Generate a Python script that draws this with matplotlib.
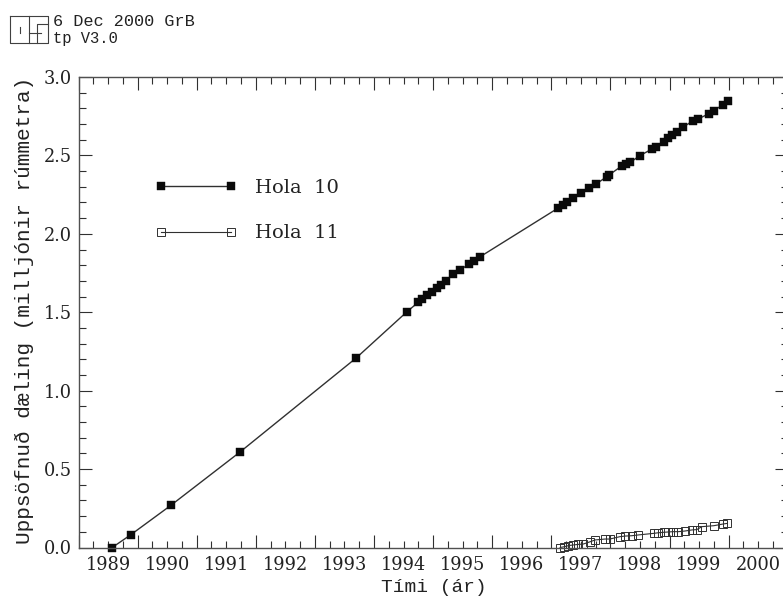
import matplotlib
matplotlib.use("Agg")
import matplotlib.pyplot as plt
from matplotlib.lines import Line2D
import numpy as np

# Time in years, cumulative pumping in million m3
hola10_t = [1989.57, 1989.88, 1990.56, 1991.74, 1993.70, 1994.56,
            1994.75, 1994.82, 1994.90, 1994.98, 1995.06, 1995.13, 1995.21,
            1995.34, 1995.46, 1995.61, 1995.69, 1995.80,
            1997.11, 1997.19, 1997.26, 1997.36, 1997.50, 1997.64, 1997.76,
            1997.94, 1997.98, 1998.20, 1998.26, 1998.34, 1998.50,
            1998.70, 1998.77, 1998.90, 1998.98, 1999.05, 1999.12, 1999.23,
            1999.40, 1999.49, 1999.66, 1999.75, 1999.90, 1999.99]
hola10_v = [0.00, 0.08, 0.268, 0.611, 1.209, 1.504,
            1.564, 1.583, 1.610, 1.631, 1.653, 1.674, 1.702,
            1.742, 1.770, 1.808, 1.829, 1.855,
            2.163, 2.184, 2.201, 2.227, 2.259, 2.291, 2.318,
            2.365, 2.376, 2.435, 2.446, 2.457, 2.499,
            2.540, 2.556, 2.588, 2.610, 2.631, 2.652, 2.680,
            2.722, 2.733, 2.765, 2.786, 2.822, 2.847]

hola11_t = [1997.15, 1997.22, 1997.29, 1997.37, 1997.46, 1997.54, 1997.66,
            1997.74, 1997.91, 1997.99, 1998.16, 1998.25, 1998.36, 1998.47,
            1998.73, 1998.81, 1998.90, 1998.98, 1999.06, 1999.15, 1999.26,
            1999.38, 1999.46, 1999.55, 1999.75, 1999.91, 1999.98]
hola11_v = [0.000, 0.005, 0.012, 0.016, 0.020, 0.022, 0.037,
            0.048, 0.054, 0.054, 0.069, 0.073, 0.075, 0.080,
            0.090, 0.094, 0.097, 0.099, 0.101, 0.101, 0.105,
            0.112, 0.114, 0.133, 0.139, 0.150, 0.154]

years = list(range(1989, 2001))
y_ticks = [0.0, 0.5, 1.0, 1.5, 2.0, 2.5, 3.0]

W, H = 783, 597
ink = "#303030"
serif = "DejaVu Serif"
mono = "Liberation Mono"

fig = plt.figure(figsize=(W / 100, H / 100), dpi=100)
# the right hand frame of the original falls outside the crop
ax = fig.add_axes([78.5 / W, (H - 547.5) / H, 709.2 / W, 470.5 / H])

ax.plot(hola10_t, hola10_v, "-", color=ink, lw=1.0, marker="s", ms=6.0,
        mfc="#0a0a0a", mec="#0a0a0a", mew=0.3, clip_on=False, label="Hola  10")
ax.plot(hola11_t, hola11_v, "-", color=ink, lw=0.8, marker="s", ms=5.6,
        mfc="none", mec=ink, mew=0.7, clip_on=False, label="Hola  11")

ax.set_xlim(1989, 2001)
ax.set_ylim(0, 3)

# year labels sit in the middle of each year, on an unmarked minor tick
ax.set_xticks(years + [2001], labels=[])
minor_x = [y + q for y in years for q in (0.25, 0.5, 0.75)]
minor_lab = [str(y) if q == 0.5 else "" for y in years for q in (0.25, 0.5, 0.75)]
ax.set_xticks(minor_x, labels=minor_lab, minor=True)
ax.set_yticks(y_ticks, labels=[f"{v:.1f}" for v in y_ticks])
ax.set_yticks(np.arange(0, 3.01, 0.1), minor=True)

ax.tick_params(which="both", direction="in", top=True, right=True, color=ink,
               width=0.8, labelcolor="#222222", labelsize=12.8)
ax.tick_params(which="major", length=9.6)
ax.tick_params(which="minor", length=5.0)
ax.tick_params(axis="x", which="both", pad=6)
ax.tick_params(axis="y", which="major", pad=5)
for lab in ax.get_xticklabels(minor=True) + ax.get_yticklabels():
    lab.set_family(serif)
for s in ax.spines.values():
    s.set_color("#505050")
    s.set_linewidth(1.0)

fig.text(434 / W, 1 - 587 / H, "Tími (ár)", family=mono, fontsize=14,
         color="#222222", ha="center", va="center")
fig.text(24 / W, 1 - 310 / H, "Uppsöfnuð dæling (milljónir rúmmetra)", family=mono,
         fontsize=15.2, color="#222222", rotation=90, ha="center", va="center")

leg = ax.legend(loc="upper left", bbox_to_anchor=((155.2 - 78.5) / 709.2, 1 - (179 - 77) / 470.5),
                frameon=False, numpoints=2, handlelength=4.2, handletextpad=0.94,
                labelspacing=1.41, borderpad=0, borderaxespad=0,
                prop={"family": serif, "size": 14}, labelcolor="#222222")

# plot stamp in the corner
fig.text(53 / W, 1 - 22 / H, "6 Dec 2000 GrB", family=mono, fontsize=12.2,
         color="#222222", ha="left", va="center")
fig.text(53 / W, 1 - 38 / H, "tp V3.0", family=mono, fontsize=11.2,
         color="#222222", ha="left", va="center")
logo = [([9.5, 48, 48, 9.5, 9.5], [15.5, 15.5, 43, 43, 15.5]),
        ([29, 29], [15.5, 43]),
        ([20, 20], [27, 33]),
        ([48, 37, 37, 29], [24, 24, 33, 33]),
        ([37, 41], [33, 33]),
        ([37, 37], [33, 43])]
for xs, ys in logo:
    fig.add_artist(Line2D(np.array(xs) / W, 1 - np.array(ys) / H, color="#404040", lw=0.8))

fig.savefig("out.png", dpi=100)
